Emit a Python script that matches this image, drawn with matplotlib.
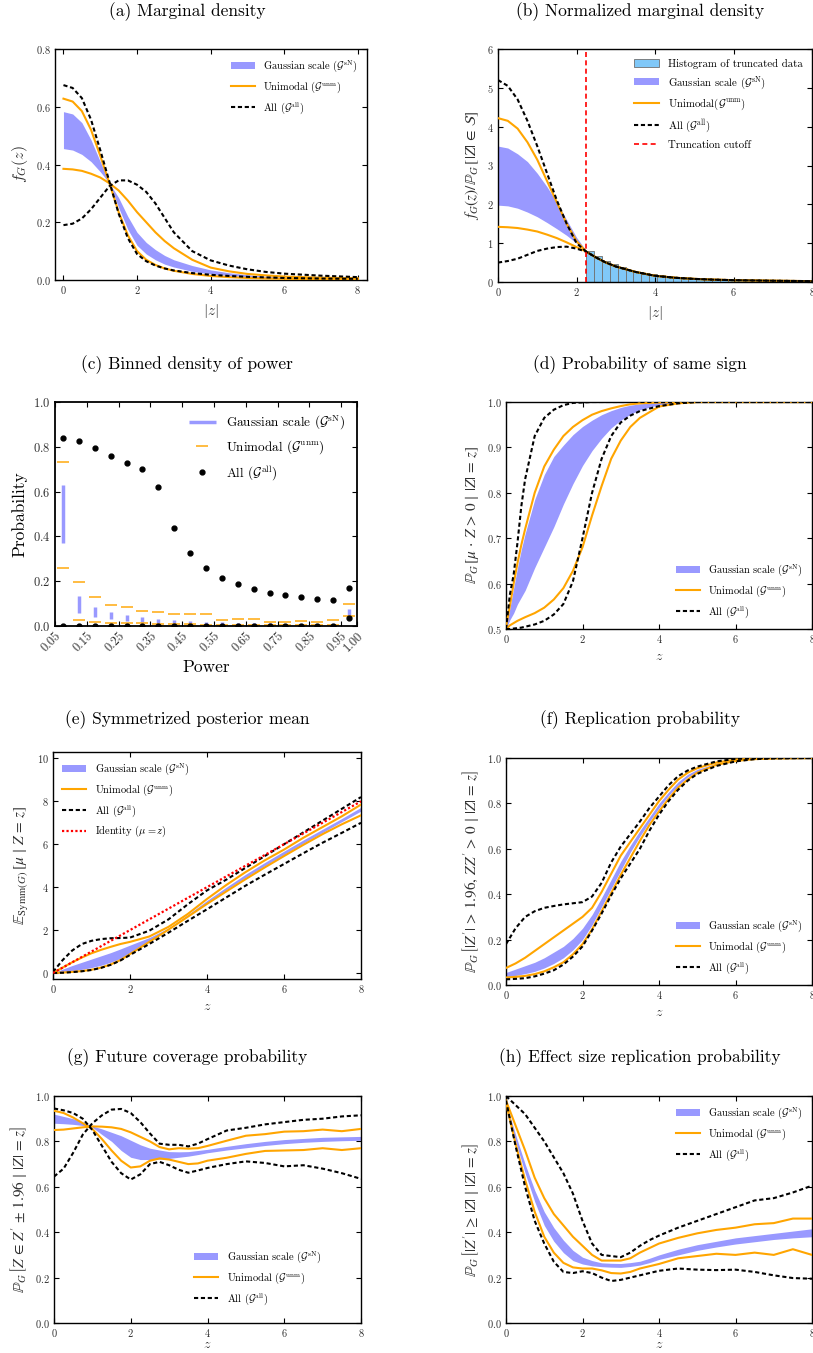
import numpy as np
import matplotlib
matplotlib.use("Agg")
import matplotlib.pyplot as plt

plt.rcParams['font.family'] = 'serif'
plt.rcParams['font.serif'] = ['cmr10', 'DejaVu Serif']
plt.rcParams['mathtext.fontset'] = 'cm'
plt.rcParams['axes.formatter.use_mathtext'] = True
plt.rcParams['axes.unicode_minus'] = False

BLUE = '#9999ff'
ORANGE = 'orange'
DASH = (0, (2.0, 1.3))

GS = r'Gaussian scale ($\mathcal{G}^{\mathrm{sN}}$)'
UN = r'Unimodal ($\mathcal{G}^{\mathrm{unm}}$)'
ALL = r'All ($\mathcal{G}^{\mathrm{all}}$)'

# ---------------- (a) marginal density ----------------
z_a = [0, 0.25, 0.5, 0.75, 1, 1.25, 1.5, 1.75, 2, 2.25, 2.5, 2.75, 3, 3.5, 4, 4.5, 5, 5.5, 6, 7, 8]
a_gs1 = [0.583, 0.575, 0.545, 0.485, 0.41, 0.335, 0.25, 0.175, 0.12, 0.09, 0.07, 0.055, 0.045, 0.03, 0.021, 0.015, 0.011, 0.008, 0.006, 0.004, 0.003]
a_gs2 = [0.455, 0.45, 0.435, 0.41, 0.375, 0.335, 0.285, 0.22, 0.165, 0.13, 0.105, 0.085, 0.07, 0.05, 0.035, 0.025, 0.018, 0.013, 0.01, 0.006, 0.004]
a_un1 = [0.628, 0.618, 0.585, 0.52, 0.43, 0.335, 0.235, 0.155, 0.1, 0.07, 0.052, 0.04, 0.032, 0.021, 0.014, 0.01, 0.007, 0.005, 0.004, 0.003, 0.002]
a_un2 = [0.385, 0.383, 0.378, 0.368, 0.355, 0.335, 0.31, 0.275, 0.235, 0.2, 0.165, 0.135, 0.11, 0.07, 0.043, 0.03, 0.021, 0.016, 0.012, 0.008, 0.006]
a_all1 = [0.675, 0.665, 0.63, 0.555, 0.45, 0.34, 0.23, 0.145, 0.09, 0.065, 0.05, 0.04, 0.033, 0.024, 0.018, 0.014, 0.011, 0.009, 0.007, 0.005, 0.004]
a_all2 = [0.19, 0.195, 0.213, 0.245, 0.285, 0.325, 0.345, 0.345, 0.33, 0.305, 0.265, 0.215, 0.165, 0.1, 0.068, 0.05, 0.037, 0.028, 0.022, 0.015, 0.01]

# ---------------- (b) normalized marginal density ----------------
z_b = [0, 0.25, 0.5, 0.75, 1, 1.25, 1.5, 1.75, 2, 2.25, 2.5, 2.75, 3, 3.5, 4, 4.5, 5, 5.5, 6, 7, 8]
b_tail = [0.63, 0.5, 0.4, 0.26, 0.16, 0.11, 0.08, 0.06, 0.047, 0.032, 0.022]
b_gs1 = [3.5, 3.45, 3.3, 3.1, 2.8, 2.45, 2.05, 1.6, 1.15, 0.8] + b_tail
b_gs2 = [1.98, 1.96, 1.9, 1.8, 1.68, 1.53, 1.37, 1.2, 1.0, 0.8] + b_tail
b_un1 = [4.22, 4.15, 3.95, 3.6, 3.15, 2.6, 2.05, 1.5, 1.05, 0.78] + b_tail
b_un2 = [1.42, 1.41, 1.39, 1.35, 1.3, 1.22, 1.13, 1.02, 0.9, 0.78] + b_tail
b_all1 = [5.2, 5.05, 4.7, 4.15, 3.5, 2.8, 2.1, 1.5, 1.0, 0.78] + b_tail
b_all2 = [0.5, 0.54, 0.6, 0.7, 0.8, 0.86, 0.9, 0.91, 0.86, 0.78] + b_tail
cutoff = 2.25
hist_left = 2.25
hist_width = 0.2
hist_heights = [0.80, 0.66, 0.55, 0.46, 0.38, 0.32, 0.27, 0.23, 0.2, 0.17, 0.15, 0.13, 0.115, 0.1,
                0.09, 0.08, 0.07, 0.065, 0.06, 0.055, 0.05, 0.045, 0.04, 0.038, 0.035, 0.032, 0.03, 0.028, 0.026]

# ---------------- (c) binned density of power ----------------
power_bins = [0.075, 0.125, 0.175, 0.225, 0.275, 0.325, 0.375, 0.425, 0.475, 0.525,
              0.575, 0.625, 0.675, 0.725, 0.775, 0.825, 0.875, 0.925, 0.975]
c_gs_hi = [0.628, 0.134, 0.085, 0.062, 0.048, 0.04, 0.033, 0.027, 0.022, 0.019, 0.016, 0.015, 0.013, 0.012, 0.011, 0.01, 0.01, 0.01, 0.076]
c_gs_lo = [0.369, 0.056, 0.042, 0.03, 0.024, 0.019, 0.015, 0.012, 0.009, 0.007, 0.006, 0.005, 0.004, 0.004, 0.003, 0.003, 0.003, 0.003, 0.046]
c_un_hi = [0.733, 0.198, 0.129, 0.094, 0.083, 0.067, 0.062, 0.053, 0.052, 0.052, 0.028, 0.03, 0.031, 0.018, 0.019, 0.024, 0.018, 0.025, 0.097]
c_un_lo = [0.26, 0.027, 0.018, 0.015, 0.012, 0.012, 0.009, 0.009, 0.007, 0.006, 0.006, 0.006, 0.006, 0.006, 0.006, 0.006, 0.006, 0.006, 0.046]
c_all_hi = [0.838, 0.825, 0.795, 0.758, 0.728, 0.703, 0.621, 0.438, 0.328, 0.26, 0.214, 0.186, 0.165, 0.149, 0.138, 0.129, 0.122, 0.114, 0.171]
c_all_lo = [0, 0, 0, 0, 0, 0, 0, 0, 0, 0, 0, 0, 0, 0, 0, 0, 0, 0, 0.037]
power_ticks = [0.05, 0.15, 0.25, 0.35, 0.45, 0.55, 0.65, 0.75, 0.85, 0.95, 1.00]

# ---------------- (d) probability of same sign ----------------
z_d = [0, 0.1, 0.2, 0.3, 0.4, 0.5, 0.75, 1, 1.25, 1.5, 1.75, 2, 2.25, 2.5, 2.75, 3, 3.25, 3.5, 4, 4.5, 5, 6, 7, 8]
d_gs1 = [0.505, 0.545, 0.59, 0.635, 0.675, 0.71, 0.785, 0.84, 0.88, 0.905, 0.928, 0.946, 0.96, 0.972, 0.981, 0.988, 0.993, 0.996, 0.999, 1, 1, 1, 1, 1]
d_gs2 = [0.5, 0.52, 0.535, 0.555, 0.57, 0.585, 0.635, 0.68, 0.725, 0.775, 0.82, 0.86, 0.893, 0.92, 0.943, 0.96, 0.973, 0.983, 0.994, 0.999, 1, 1, 1, 1]
d_un1 = [0.505, 0.55, 0.6, 0.645, 0.685, 0.72, 0.8, 0.858, 0.895, 0.925, 0.945, 0.96, 0.972, 0.98, 0.986, 0.991, 0.995, 0.997, 0.999, 1, 1, 1, 1, 1]
d_un2 = [0.5, 0.508, 0.513, 0.518, 0.522, 0.526, 0.535, 0.547, 0.565, 0.59, 0.628, 0.68, 0.75, 0.815, 0.875, 0.915, 0.945, 0.965, 0.99, 0.997, 1, 1, 1, 1]
d_all1 = [0.5, 0.575, 0.62, 0.69, 0.77, 0.83, 0.925, 0.965, 0.983, 0.993, 0.998, 0.999, 1, 1, 1, 1, 1, 1, 1, 1, 1, 1, 1, 1]
d_all2 = [0.5, 0.5, 0.501, 0.502, 0.503, 0.505, 0.51, 0.518, 0.532, 0.555, 0.605, 0.7, 0.8, 0.875, 0.925, 0.955, 0.97, 0.98, 0.991, 0.997, 1, 1, 1, 1]

# ---------------- (e) symmetrized posterior mean ----------------
z_e = [0, 0.25, 0.5, 0.75, 1, 1.25, 1.5, 1.75, 2, 2.5, 3, 3.5, 4, 4.5, 5, 5.5, 6, 6.5, 7, 7.5, 8]
e_gs1 = [0, 0.18, 0.35, 0.5, 0.65, 0.8, 0.95, 1.12, 1.3, 1.65, 2.1, 2.72, 3.38, 4.0, 4.6, 5.15, 5.68, 6.2, 6.7, 7.2, 7.72]
e_gs2 = [0, 0.04, 0.1, 0.17, 0.25, 0.36, 0.5, 0.68, 0.95, 1.5, 2.05, 2.66, 3.28, 3.88, 4.45, 5.0, 5.52, 6.05, 6.55, 7.05, 7.55]
e_un1 = [0, 0.25, 0.5, 0.72, 0.92, 1.08, 1.22, 1.35, 1.45, 1.7, 2.15, 2.75, 3.45, 4.1, 4.7, 5.25, 5.75, 6.3, 6.8, 7.3, 7.85]
e_un2 = [0, 0.02, 0.05, 0.09, 0.15, 0.25, 0.4, 0.6, 0.88, 1.45, 2.02, 2.62, 3.22, 3.8, 4.37, 4.92, 5.45, 5.97, 6.47, 6.93, 7.35]
e_all1 = [0.05, 0.6, 1.05, 1.35, 1.5, 1.58, 1.62, 1.63, 1.65, 1.97, 2.5, 3.2, 3.85, 4.35, 4.9, 5.45, 6.0, 6.55, 7.1, 7.65, 8.2]
e_all2 = [0, 0.01, 0.04, 0.08, 0.14, 0.24, 0.38, 0.58, 0.84, 1.35, 1.88, 2.43, 2.97, 3.52, 4.07, 4.58, 5.08, 5.58, 6.07, 6.53, 7.0]
identity_z = [0, 8]

# ---------------- (f) replication probability ----------------
z_f = [0, 0.25, 0.5, 0.75, 1, 1.25, 1.5, 1.75, 2, 2.25, 2.5, 2.75, 3, 3.25, 3.5, 3.75, 4, 4.25, 4.5, 4.75, 5, 5.5, 6, 6.5, 7, 8]
f_gs1 = [0.055, 0.07, 0.085, 0.1, 0.12, 0.145, 0.17, 0.205, 0.25, 0.31, 0.385, 0.465, 0.545, 0.615, 0.68, 0.74, 0.8, 0.85, 0.895, 0.928, 0.95, 0.977, 0.99, 0.997, 0.999, 1.0]
f_gs2 = [0.035, 0.042, 0.05, 0.06, 0.075, 0.095, 0.12, 0.155, 0.2, 0.265, 0.345, 0.425, 0.505, 0.585, 0.655, 0.72, 0.78, 0.835, 0.88, 0.917, 0.94, 0.972, 0.988, 0.996, 0.999, 1.0]
f_un1 = [0.075, 0.095, 0.12, 0.15, 0.18, 0.21, 0.24, 0.27, 0.3, 0.34, 0.41, 0.49, 0.57, 0.63, 0.69, 0.75, 0.81, 0.86, 0.905, 0.935, 0.955, 0.98, 0.993, 0.998, 1.0, 1.0]
f_un2 = [0.033, 0.036, 0.04, 0.048, 0.06, 0.078, 0.1, 0.135, 0.18, 0.245, 0.325, 0.405, 0.485, 0.56, 0.635, 0.705, 0.765, 0.82, 0.87, 0.905, 0.935, 0.97, 0.987, 0.995, 0.998, 1.0]
f_all1 = [0.18, 0.25, 0.3, 0.325, 0.34, 0.348, 0.355, 0.36, 0.365, 0.39, 0.45, 0.54, 0.61, 0.665, 0.72, 0.78, 0.83, 0.88, 0.92, 0.945, 0.962, 0.985, 0.996, 0.999, 1.0, 1.0]
f_all2 = [0.025, 0.027, 0.03, 0.038, 0.05, 0.065, 0.09, 0.125, 0.17, 0.24, 0.315, 0.395, 0.47, 0.535, 0.6, 0.68, 0.75, 0.81, 0.86, 0.9, 0.93, 0.965, 0.985, 0.995, 0.998, 1.0]

# ---------------- (g) future coverage probability ----------------
z_g = [0, 0.25, 0.5, 0.75, 1, 1.25, 1.5, 1.75, 2, 2.25, 2.5, 2.75, 3, 3.25, 3.5, 3.75, 4, 4.5, 5, 5.5, 6, 6.5, 7, 7.5, 8]
g_gs1 = [0.92, 0.91, 0.9, 0.885, 0.868, 0.855, 0.84, 0.825, 0.805, 0.785, 0.77, 0.762, 0.755, 0.754, 0.755, 0.76, 0.765, 0.778, 0.79, 0.8, 0.808, 0.813, 0.818, 0.82, 0.822]
g_gs2 = [0.88, 0.878, 0.875, 0.87, 0.862, 0.83, 0.8, 0.76, 0.73, 0.72, 0.72, 0.722, 0.725, 0.73, 0.735, 0.742, 0.75, 0.762, 0.772, 0.782, 0.79, 0.796, 0.8, 0.803, 0.805]
g_un1 = [0.935, 0.925, 0.905, 0.88, 0.855, 0.81, 0.76, 0.715, 0.685, 0.69, 0.715, 0.725, 0.72, 0.71, 0.7, 0.703, 0.715, 0.728, 0.745, 0.758, 0.76, 0.762, 0.77, 0.762, 0.77]
g_un2 = [0.85, 0.852, 0.857, 0.862, 0.866, 0.865, 0.862, 0.855, 0.84, 0.82, 0.8, 0.775, 0.765, 0.77, 0.768, 0.77, 0.78, 0.803, 0.825, 0.832, 0.843, 0.845, 0.852, 0.845, 0.855]
g_all1 = [0.945, 0.937, 0.925, 0.9, 0.85, 0.78, 0.71, 0.66, 0.632, 0.655, 0.7, 0.71, 0.695, 0.675, 0.662, 0.672, 0.683, 0.7, 0.712, 0.705, 0.69, 0.695, 0.68, 0.66, 0.635]
g_all2 = [0.645, 0.68, 0.75, 0.83, 0.88, 0.915, 0.94, 0.943, 0.925, 0.885, 0.835, 0.79, 0.785, 0.785, 0.778, 0.79, 0.81, 0.848, 0.86, 0.875, 0.885, 0.895, 0.9, 0.91, 0.915]

# ---------------- (h) effect size replication probability ----------------
z_h = [0, 0.25, 0.5, 0.75, 1, 1.25, 1.5, 1.75, 2, 2.25, 2.5, 2.75, 3, 3.25, 3.5, 3.75, 4, 4.5, 5, 5.5, 6, 6.5, 7, 7.5, 8]
h_gs1 = [0.97, 0.83, 0.7, 0.585, 0.49, 0.42, 0.365, 0.32, 0.29, 0.275, 0.265, 0.263, 0.262, 0.266, 0.272, 0.285, 0.3, 0.325, 0.345, 0.36, 0.375, 0.385, 0.395, 0.405, 0.415]
h_gs2 = [0.96, 0.8, 0.66, 0.535, 0.43, 0.36, 0.31, 0.275, 0.26, 0.252, 0.248, 0.246, 0.245, 0.249, 0.255, 0.266, 0.28, 0.3, 0.32, 0.335, 0.348, 0.358, 0.368, 0.375, 0.38]
h_un1 = [0.98, 0.87, 0.76, 0.64, 0.55, 0.48, 0.43, 0.38, 0.34, 0.3, 0.275, 0.275, 0.275, 0.285, 0.31, 0.33, 0.35, 0.375, 0.395, 0.41, 0.42, 0.435, 0.44, 0.46, 0.46]
h_un2 = [0.97, 0.79, 0.63, 0.49, 0.38, 0.31, 0.265, 0.245, 0.24, 0.24, 0.232, 0.22, 0.218, 0.225, 0.24, 0.25, 0.26, 0.285, 0.295, 0.305, 0.3, 0.31, 0.3, 0.325, 0.3]
h_all1 = [1.0, 0.96, 0.92, 0.86, 0.8, 0.73, 0.66, 0.57, 0.45, 0.35, 0.3, 0.295, 0.29, 0.31, 0.34, 0.365, 0.385, 0.42, 0.45, 0.48, 0.51, 0.54, 0.55, 0.575, 0.605]
h_all2 = [0.98, 0.78, 0.6, 0.45, 0.35, 0.27, 0.225, 0.22, 0.228, 0.22, 0.2, 0.185, 0.19, 0.2, 0.21, 0.22, 0.23, 0.24, 0.235, 0.233, 0.235, 0.225, 0.21, 0.198, 0.195]

TICK_FS = 7.5
LAB_FS = 10
YLAB_FS = 11
LEG_FS = 7.5


def style(ax, fs=TICK_FS):
    ax.tick_params(direction='in', top=True, right=True, labelsize=fs, length=3.5, width=0.8, pad=3,
                   labelcolor='#303030')
    for s in ax.spines.values():
        s.set_linewidth(1.0)


def bands(ax, z, gs1, gs2, un1, un2, all1, all2, un_label=UN):
    ax.fill_between(z, gs1, gs2, color=BLUE, lw=0, label=GS, zorder=2)
    ax.plot(z, un1, color=ORANGE, lw=1.5, label=un_label, zorder=3)
    ax.plot(z, un2, color=ORANGE, lw=1.5, zorder=3)
    ax.plot(z, all1, color='k', ls=DASH, lw=1.5, label=ALL, zorder=4)
    ax.plot(z, all2, color='k', ls=DASH, lw=1.5, zorder=4)


def ylab(ax, s):
    # blackboard letters need the STIX math fonts
    ax.set_ylabel(s, fontsize=YLAB_FS, math_fontfamily='stix', color='#303030')


W, H = 813, 1353
fig = plt.figure(figsize=(W / 100, H / 100), dpi=100)


def add_ax(l, r, t, b):
    return fig.add_axes([l / W, 1 - b / H, (r - l) / W, (b - t) / H])


def title(x, y, s):
    fig.text(x / W, 1 - y / H, s, ha='center', va='center', fontsize=12.5)


# (a)
ax = add_ax(55, 367, 49, 280)
bands(ax, z_a, a_gs1, a_gs2, a_un1, a_un2, a_all1, a_all2)
ax.set_xlim(-0.23, 8.25)
ax.set_ylim(0, 0.8)
ax.set_xticks([0, 2, 4, 6, 8])
ax.set_yticks([0.0, 0.2, 0.4, 0.6, 0.8])
ax.set_xlabel(r'$|z|$', fontsize=LAB_FS + 1, color='#303030')
ax.set_ylabel(r'$f_G(z)$', fontsize=YLAB_FS + 0.5, color='#303030')
style(ax)
ax.legend(loc='upper right', frameon=False, fontsize=LEG_FS, handlelength=2.3)
title(187, 12, '(a) Marginal density')

# (b)
ax = add_ax(498, 812, 49, 282)
ax.bar(hist_left + hist_width * np.arange(len(hist_heights)), hist_heights, width=hist_width, align='edge',
       color='#80c8f8', edgecolor='#707070', lw=0.6, label='Histogram of truncated data', zorder=1)
bands(ax, z_b, b_gs1, b_gs2, b_un1, b_un2, b_all1, b_all2, un_label=r'Unimodal($\mathcal{G}^{\mathrm{unm}}$)')
ax.axvline(cutoff, color='red', ls=(0, (3, 2)), lw=1.2, label='Truncation cutoff', zorder=5)
ax.set_xlim(0, 8)
ax.set_ylim(0, 6)
ax.set_xticks([0, 2, 4, 6, 8])
ax.set_yticks(range(7))
ax.set_xlabel(r'$|z|$', fontsize=LAB_FS + 1, color='#303030')
ylab(ax, r'$f_G(z)/\mathbb{P}_G\,\left[|Z| \,\in\, \mathcal{S}\right]$')
style(ax)
handles, labels = ax.get_legend_handles_labels()
order = [labels.index(l) for l in ['Histogram of truncated data', GS,
                                   r'Unimodal($\mathcal{G}^{\mathrm{unm}}$)', ALL, 'Truncation cutoff']]
ax.legend([handles[i] for i in order], [labels[i] for i in order],
          loc='upper right', frameon=False, fontsize=LEG_FS + 0.3, handlelength=2.3)
title(640, 12, '(b) Normalized marginal density')

# (c)
ax = add_ax(55, 357, 402, 626)
ax.vlines(power_bins, c_gs_lo, c_gs_hi, color=BLUE, lw=2.5, label=GS)
ax.plot(power_bins, c_un_hi, ls='none', marker='_', ms=9, mew=1.3, color=ORANGE, alpha=0.8, label=UN)
ax.plot(power_bins, c_un_lo, ls='none', marker='_', ms=9, mew=1.3, color=ORANGE, alpha=0.8)
ax.plot(power_bins, c_all_hi, ls='none', marker='o', ms=3.5, color='k', label=ALL)
ax.plot(power_bins, c_all_lo, ls='none', marker='o', ms=3.5, color='k')
ax.set_xlim(0.05, 1.0)
ax.set_ylim(0, 1)
ax.set_xticks(power_ticks)
ax.set_xticklabels(['%.2f' % p for p in power_ticks], rotation=45, ha='right', rotation_mode='anchor')
ax.set_yticks([0.0, 0.2, 0.4, 0.6, 0.8, 1.0])
ax.set_xlabel('Power', fontsize=12.5)
ax.set_ylabel('Probability', fontsize=12.5)
style(ax, fs=9)
for s in ax.spines.values():
    s.set_linewidth(1.3)
ax.legend(loc='upper right', frameon=False, fontsize=9.5, handlelength=2.0)
title(187, 365, '(c) Binned density of power')

# (d)
ax = add_ax(506, 812, 402, 629)
bands(ax, z_d, d_gs1, d_gs2, d_un1, d_un2, d_all1, d_all2)
ax.set_xlim(0, 8)
ax.set_ylim(0.5, 1.0)
ax.set_xticks([0, 2, 4, 6, 8])
ax.set_yticks([0.5, 0.6, 0.7, 0.8, 0.9, 1.0])
ax.set_xlabel(r'$z$', fontsize=LAB_FS, color='#303030')
ylab(ax, r'$\mathbb{P}_G\,\left[\mu \,\cdot\, Z \,>\, 0 \,\mid\, |Z| \,=\, z\right]$')
style(ax)
ax.legend(loc='lower right', frameon=False, fontsize=LEG_FS, handlelength=2.3)
title(640, 365, '(d) Probability of same sign')

# (e)
ax = add_ax(53, 361, 752, 979)
bands(ax, z_e, e_gs1, e_gs2, e_un1, e_un2, e_all1, e_all2)
ax.plot(identity_z, identity_z, color='red', ls=(0, (1, 1)), lw=1.6, label=r'Identity ($\mu = z$)', zorder=5)
ax.set_xlim(0, 8)
ax.set_ylim(-0.28, 10.3)
ax.set_xticks([0, 2, 4, 6, 8])
ax.set_yticks([0, 2, 4, 6, 8, 10])
ax.set_xlabel(r'$z$', fontsize=LAB_FS, color='#303030')
ylab(ax, r'$\mathbb{E}_{\mathrm{Symm}(G)}\,\left[\mu \,\mid\, Z \,=\, z\right]$')
style(ax)
ax.legend(loc='upper left', frameon=False, fontsize=LEG_FS, handlelength=2.3)
title(187, 720, '(e) Symmetrized posterior mean')

# (f)
ax = add_ax(506, 812, 758, 985)
bands(ax, z_f, f_gs1, f_gs2, f_un1, f_un2, f_all1, f_all2)
ax.set_xlim(0, 8)
ax.set_ylim(0, 1)
ax.set_xticks([0, 2, 4, 6, 8])
ax.set_yticks([0.0, 0.2, 0.4, 0.6, 0.8, 1.0])
ax.set_xlabel(r'$z$', fontsize=LAB_FS, color='#303030')
ylab(ax, r"$\mathbb{P}_G\,\left[|Z'| \,>\, 1.96,\, ZZ' \,>\, 0 \,\mid\, |Z| \,=\, z\right]$")
style(ax)
ax.legend(loc='lower right', frameon=False, fontsize=LEG_FS, handlelength=2.3)
title(640, 720, '(f) Replication probability')

# (g)
ax = add_ax(54, 361, 1096, 1323)
bands(ax, z_g, g_gs1, g_gs2, g_un1, g_un2, g_all1, g_all2)
ax.set_xlim(0, 8)
ax.set_ylim(0, 1)
ax.set_xticks([0, 2, 4, 6, 8])
ax.set_yticks([0.0, 0.2, 0.4, 0.6, 0.8, 1.0])
ax.set_xlabel(r'$z$', fontsize=LAB_FS, color='#303030', labelpad=0)
ylab(ax, r"$\mathbb{P}_G\,\left[Z \,\in\, Z' \,\pm\, 1.96 \,\mid\, |Z| \,=\, z\right]$")
style(ax)
ax.legend(loc='lower right', bbox_to_anchor=(0.9, 0.03), frameon=False, fontsize=LEG_FS, handlelength=2.3)
title(187, 1058, '(g) Future coverage probability')

# (h)
ax = add_ax(506, 812, 1096, 1323)
bands(ax, z_h, h_gs1, h_gs2, h_un1, h_un2, h_all1, h_all2)
ax.set_xlim(0, 8)
ax.set_ylim(0, 1)
ax.set_xticks([0, 2, 4, 6, 8])
ax.set_yticks([0.0, 0.2, 0.4, 0.6, 0.8, 1.0])
ax.set_xlabel(r'$z$', fontsize=LAB_FS, color='#303030', labelpad=0)
ylab(ax, r"$\mathbb{P}_G\,\left[|Z'| \,\geq\, |Z| \,\mid\, |Z| \,=\, z\right]$")
style(ax)
ax.legend(loc='upper right', frameon=False, fontsize=LEG_FS, handlelength=2.3)
title(640, 1058, '(h) Effect size replication probability')

fig.savefig('out.png', dpi=100)
